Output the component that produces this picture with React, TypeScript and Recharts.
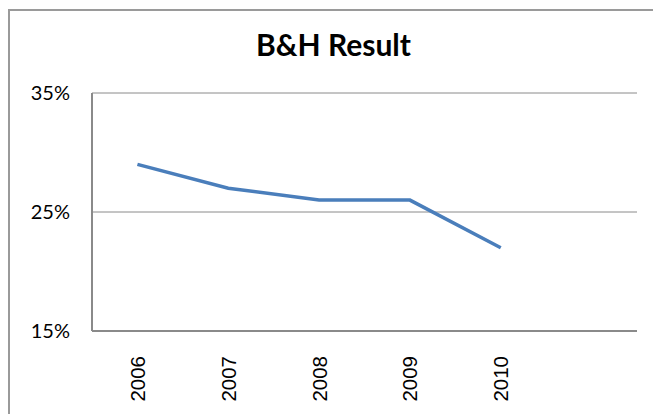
import { LineChart, Line, XAxis, YAxis, CartesianGrid } from 'recharts';

// B&H result per year (last category is an empty slot, as in the source sheet)
const years = ['2006', '2007', '2008', '2009', '2010', ''];
const bhResult = [0.29, 0.27, 0.26, 0.26, 0.22, null];
const yTicks = [0.15, 0.25, 0.35];

const data = years.map((year, i) => ({ year, value: bhResult[i] }));

const YearTick = (props: any) => {
    const { x, y, payload } = props;
    const ty = y + 17;
    return (
        <text
            x={x}
            y={ty}
            transform={`rotate(-90, ${x}, ${ty})`}
            textAnchor="end"
            dominantBaseline="central"
            style={{ fontFamily: "'Liberation Sans', Arial, sans-serif", fontSize: 20.5 }}
            fill="#000"
        >
            {payload.value}
        </text>
    );
};

export default function App() {
    return (
        <div style={{ position: 'absolute', left: 0, top: 0, width: 653, height: 414, overflow: 'hidden', background: '#fff' }}>
            {/* 차트 외곽 테두리 */}
            <div
                style={{
                    position: 'absolute',
                    left: 8,
                    top: 9,
                    width: 660,
                    height: 420,
                    borderLeft: '2px solid #9a9a9a',
                    borderTop: '2px solid #9a9a9a',
                }}
            />
            <div
                style={{
                    position: 'absolute',
                    left: 0,
                    top: 24,
                    width: 667,
                    textAlign: 'center',
                    fontFamily: 'Lato, sans-serif',
                    fontWeight: 700,
                    fontSize: 30,
                    lineHeight: '40px',
                    color: '#000',
                }}
            >
                B&amp;H Result
            </div>
            <div style={{ position: 'absolute', left: 0, top: 0 }}>
                <LineChart width={653} height={414} data={data} margin={{ top: 93, right: 16, bottom: 23, left: 0 }}>
                    <CartesianGrid vertical={false} stroke="#8a8a8a" strokeWidth={1} />
                    <XAxis
                        dataKey="year"
                        scale="band"
                        height={60}
                        axisLine={{ stroke: '#8a8a8a', strokeWidth: 2 }}
                        tickLine={false}
                        tick={<YearTick />}
                        interval={0}
                    />
                    <YAxis
                        width={92}
                        domain={[0.15, 0.35]}
                        ticks={yTicks}
                        tickFormatter={(v: number) => `${Math.round(v * 100)}%`}
                        axisLine={{ stroke: '#8a8a8a', strokeWidth: 2 }}
                        tickLine={false}
                        tickSize={0}
                        tickMargin={22}
                        tick={{ fill: '#000', fontSize: 20, fontFamily: 'Lato, sans-serif' }}
                    />
                    <Line
                        type="linear"
                        dataKey="value"
                        stroke="#4a7ebb"
                        strokeWidth={3.5}
                        dot={false}
                        activeDot={false}
                        connectNulls={false}
                        isAnimationActive={false}
                    />
                </LineChart>
            </div>
        </div>
    );
}
